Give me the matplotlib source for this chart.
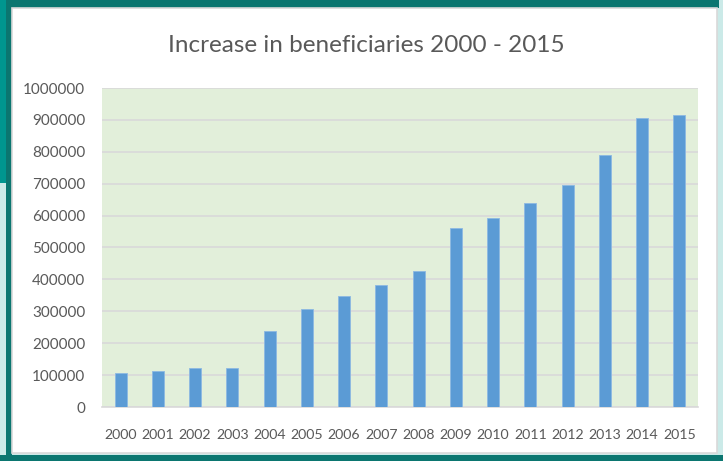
import matplotlib
matplotlib.use("Agg")
import matplotlib.pyplot as plt
from matplotlib.patches import Rectangle

W, H = 723, 461

years = ["2000", "2001", "2002", "2003", "2004", "2005", "2006", "2007",
         "2008", "2009", "2010", "2011", "2012", "2013", "2014", "2015"]
beneficiaries = [108000, 114000, 123000, 123000, 238000, 307000, 348000, 383000,
                 427000, 562000, 592000, 641000, 696000, 791000, 906000, 916000]
yticks = [0, 100000, 200000, 300000, 400000, 500000, 600000, 700000, 800000,
          900000, 1000000]

text_grey = "#595959"
grid_grey = "#D9D9D9"

plt.rcParams['font.family'] = ['Lato', 'DejaVu Sans']

fig = plt.figure(figsize=(W / 100, H / 100), dpi=100)
fig.patch.set_facecolor("#CBEAE8")


def px_rect(x0, y0, x1, y1, **kw):
    # rectangle given in pixel coords from top-left
    r = Rectangle((x0 / W, 1 - y1 / H), (x1 - x0) / W, (y1 - y0) / H,
                  transform=fig.transFigure, zorder=0, **kw)
    fig.add_artist(r)


# frame around the chart
px_rect(0, 0, 7, 183, color="#00968F", lw=0)
px_rect(6, 0, 719, 8, color="#0B7670", lw=0)
px_rect(6, 0, 12, 461, color="#0B7670", lw=0)
px_rect(0, 455, 723, 461, color="#0B7670", lw=0)
px_rect(12, 8, 717, 453, facecolor="white", edgecolor=grid_grey, lw=1.2)

ax = fig.add_axes([102 / W, 1 - 407 / H, (698 - 102) / W, (407 - 88) / H])
ax.set_facecolor("#E2EFDA")

x = range(len(years))
ax.bar(x, beneficiaries, width=0.32, color="#5B9BD5", edgecolor="#8DB9E2",
       linewidth=0.6, zorder=3)

ax.set_xlim(-0.5, len(years) - 0.5)
ax.set_ylim(0, 1000000)
ax.set_yticks(yticks)
ax.set_yticklabels([str(v) for v in yticks])
ax.set_xticks(list(x))
ax.set_xticklabels(years)
ax.grid(axis="y", color=grid_grey, linewidth=1.2, zorder=1)
ax.set_axisbelow(True)
ax.tick_params(axis="both", length=0, colors=text_grey)
ax.tick_params(axis="y", pad=12, labelsize=11)
ax.tick_params(axis="x", pad=16, labelsize=10.2)
for s in ["left", "right", "top"]:
    ax.spines[s].set_visible(False)
ax.spines["bottom"].set_color(grid_grey)
ax.spines["bottom"].set_linewidth(1.2)

fig.text(366 / W, 1 - 46 / H, "Increase in beneficiaries 2000 - 2015",
         ha="center", va="center", fontsize=17.5, color=text_grey)

fig.savefig("out.png", dpi=100, facecolor=fig.get_facecolor())
